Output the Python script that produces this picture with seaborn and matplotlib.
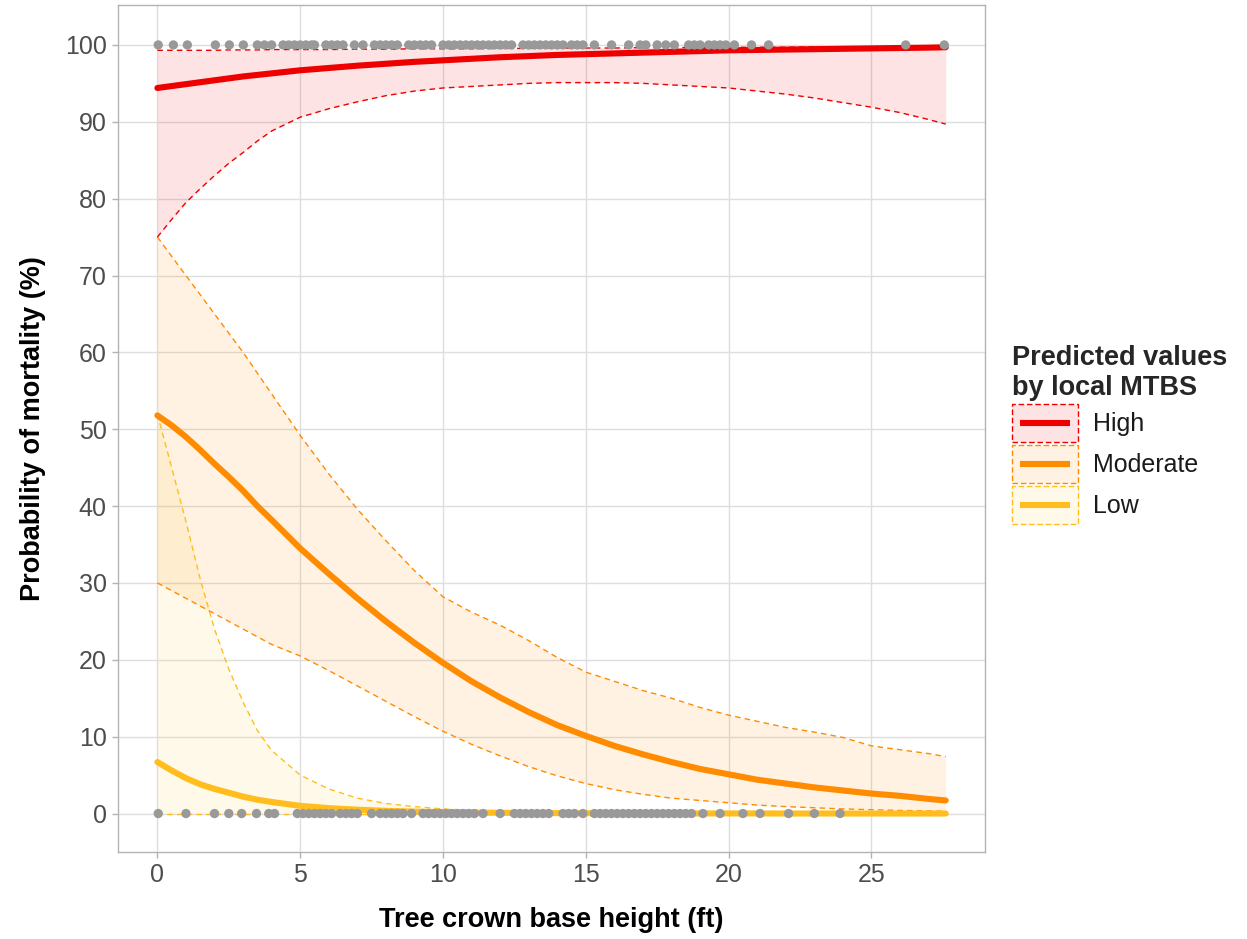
import matplotlib
matplotlib.use("Agg")
import matplotlib.pyplot as plt
import seaborn as sns
import pandas as pd
from matplotlib.patches import Rectangle
from matplotlib.lines import Line2D

# ---------------- data ----------------
x_grid = [0, 0.5, 1, 1.5, 2, 2.5, 3, 3.5, 4, 5, 6, 7, 8, 9, 10, 11, 12, 13, 14, 15,
          16, 17, 18, 19, 20, 21, 22, 23, 24, 25, 26, 27, 27.6]

high_fit = [94.4, 94.65, 94.9, 95.15, 95.4, 95.65, 95.9, 96.1, 96.3, 96.7, 97.0, 97.3, 97.55,
            97.8, 98.0, 98.2, 98.4, 98.55, 98.7, 98.8, 98.9, 99.0, 99.1, 99.2, 99.3, 99.35,
            99.4, 99.45, 99.5, 99.55, 99.6, 99.65, 99.7]
high_upper = [99.3, 99.3, 99.3, 99.3, 99.3, 99.35, 99.35, 99.35, 99.4, 99.4, 99.4, 99.45, 99.45,
              99.5, 99.5, 99.5, 99.55, 99.55, 99.6, 99.6, 99.6, 99.65, 99.65, 99.7, 99.7, 99.7,
              99.7, 99.75, 99.75, 99.75, 99.8, 99.8, 99.8]
high_lower = [75.0, 77.3, 79.5, 81.3, 83.0, 84.6, 86.0, 87.5, 88.8, 90.6, 91.7, 92.6, 93.4,
              94.0, 94.4, 94.6, 94.8, 95.0, 95.1, 95.1, 95.1, 95.0, 94.8, 94.6, 94.4, 94.0,
              93.6, 93.1, 92.5, 91.9, 91.2, 90.3, 89.7]

mod_fit = [51.8, 50.5, 49.0, 47.3, 45.5, 43.8, 42.0, 40.0, 38.2, 34.5, 31.2, 28.0, 25.0,
           22.2, 19.6, 17.2, 15.1, 13.2, 11.5, 10.1, 8.8, 7.7, 6.7, 5.8, 5.1, 4.4, 3.9, 3.4,
           3.0, 2.6, 2.3, 1.9, 1.7]
mod_upper = [75.0, 72.5, 70.0, 67.5, 65.0, 62.5, 60.0, 57.3, 54.6, 49.2, 44.2, 39.6, 35.5,
             31.6, 28.2, 26.2, 24.5, 22.5, 20.3, 18.4, 17.2, 16.0, 15.0, 13.8, 12.8, 12.0,
             11.2, 10.6, 9.9, 8.8, 8.3, 7.8, 7.4]
mod_lower = [30.0, 29.0, 28.0, 27.0, 26.0, 25.0, 24.0, 23.0, 22.0, 20.5, 18.6, 16.6, 14.6,
             12.6, 10.7, 9.0, 7.5, 6.1, 4.9, 3.9, 3.1, 2.5, 2.0, 1.7, 1.4, 1.1, 0.9, 0.75,
             0.6, 0.5, 0.4, 0.35, 0.3]

low_fit = [6.7, 5.6, 4.6, 3.8, 3.2, 2.7, 2.2, 1.8, 1.5, 1.0, 0.7, 0.5, 0.35, 0.25, 0.18,
           0.13, 0.1, 0.07, 0.05, 0.04, 0.03, 0.02, 0.02, 0.01, 0.01, 0.01, 0.0, 0.0, 0.0,
           0.0, 0.0, 0.0, 0.0]
low_upper = [52.0, 45.0, 38.0, 30.5, 24.0, 18.8, 14.5, 10.8, 8.2, 5.0, 3.2, 2.0, 1.3, 0.9,
             0.6, 0.4, 0.25, 0.15, 0.1, 0.07, 0.05, 0.03, 0.02, 0.01, 0.01, 0.0, 0.0, 0.0,
             0.0, 0.0, 0.0, 0.0, 0.0]
low_lower = [0.0] * 33

# observed trees (dead = 100, alive = 0)
dead_x = [0.03, 0.56, 1.05, 2.03, 2.52, 3.01, 3.5, 3.75, 4.0, 4.4, 4.6, 4.8, 5.0, 5.2, 5.4,
          5.5, 5.9, 6.1, 6.3, 6.5, 6.9, 7.2, 7.6, 7.8, 8.0, 8.2, 8.4, 8.8, 9.0, 9.2, 9.4,
          9.6, 10.0, 10.2, 10.4, 10.6, 10.8, 11.0, 11.2, 11.4, 11.6, 11.8, 12.0, 12.2, 12.4,
          12.8, 13.0, 13.2, 13.4, 13.6, 13.8, 14.0, 14.2, 14.5, 14.7, 14.9, 15.3, 15.9,
          16.5, 16.9, 17.1, 17.5, 17.8, 18.1, 18.6, 18.8, 19.0, 19.3, 19.5, 19.7, 19.9,
          20.2, 20.8, 21.4, 26.2, 27.55]
alive_x = [0.03, 1.0, 2.0, 2.5, 2.95, 3.47, 3.9, 4.1, 4.9, 5.1, 5.3, 5.5, 5.7, 5.9, 6.1,
           6.4, 6.6, 6.8, 7.0, 7.5, 7.8, 8.0, 8.2, 8.4, 8.6, 8.9, 9.3, 9.5, 9.7, 9.9, 10.1,
           10.3, 10.5, 10.7, 10.9, 11.1, 11.4, 12.0, 12.5, 12.7, 12.9, 13.1, 13.3, 13.5,
           13.7, 14.2, 14.4, 14.6, 14.9, 15.3, 15.5, 15.7, 15.9, 16.1, 16.3, 16.5, 16.7,
           16.9, 17.1, 17.3, 17.5, 17.7, 17.9, 18.1, 18.3, 18.5, 18.7, 19.1, 19.7, 20.5,
           21.1, 22.1, 23.0, 23.9]

categories = ["High", "Moderate", "Low"]
colors = {"High": "#EE0000", "Moderate": "#FF8C00", "Low": "#FFBE1E"}
fill_alpha = {"High": 0.11, "Moderate": 0.11, "Low": 0.09}

series = {
    "High": (high_fit, high_lower, high_upper),
    "Moderate": (mod_fit, mod_lower, mod_upper),
    "Low": (low_fit, low_lower, low_upper),
}

# ---------------- style ----------------
sns.set_theme(style="white")
plt.rcParams["font.family"] = ["Liberation Sans", "DejaVu Sans"]

fig = plt.figure(figsize=(12.47, 9.39), dpi=100)
ax = fig.add_axes([0.0946, 0.0927, 0.6954, 0.902])

grid_c = "#DEDEDE"
for s in ax.spines.values():
    s.set_color("#B3B3B3")
    s.set_linewidth(1.0)

# ribbons
for cat in ["Low", "Moderate", "High"]:
    fit, lo, hi = series[cat]
    ax.fill_between(x_grid, lo, hi, color=colors[cat], alpha=fill_alpha[cat], linewidth=0, zorder=1)

# bounds (dashed)
for cat in ["Low", "Moderate", "High"]:
    fit, lo, hi = series[cat]
    for b in (lo, hi):
        df = pd.DataFrame({"x": x_grid, "y": b})
        sns.lineplot(data=df, x="x", y="y", ax=ax, color=colors[cat], linewidth=1.0,
                     linestyle=(0, (4, 3)), zorder=2, legend=False)

# fitted lines
for cat in ["Low", "Moderate", "High"]:
    fit, lo, hi = series[cat]
    df = pd.DataFrame({"x": x_grid, "y": fit})
    sns.lineplot(data=df, x="x", y="y", ax=ax, color=colors[cat], linewidth=4.4,
                 zorder=3, legend=False)

# observed points
pts = pd.DataFrame({"x": dead_x + alive_x,
                    "y": [100] * len(dead_x) + [0] * len(alive_x)})
sns.scatterplot(data=pts, x="x", y="y", ax=ax, color="#999999", s=45, edgecolor="none",
                zorder=4, legend=False)

ax.set_xlim(-1.38, 28.98)
ax.set_ylim(-5, 105.2)
ax.set_xticks([0, 5, 10, 15, 20, 25])
ax.set_yticks(list(range(0, 101, 10)))
ax.grid(True, color=grid_c, linewidth=1.0, zorder=0)
ax.set_axisbelow(True)
ax.tick_params(axis="both", which="major", length=4, width=1.0, color="#B3B3B3",
               labelsize=18, labelcolor="#4D4D4D", pad=4, bottom=True, left=True)

ax.set_xlabel("Tree crown base height (ft)", fontsize=19.5, fontweight="bold", color="black", labelpad=14)
ax.set_ylabel("Probability of mortality (%)", fontsize=19.5, fontweight="bold", color="black", labelpad=14)


# legend with ggplot-like keys
class Key:
    def __init__(self, cat):
        self.cat = cat


class KeyHandler:
    def legend_artist(self, legend, orig_handle, fontsize, handlebox):
        cat = orig_handle.cat
        x0, y0 = handlebox.xdescent, handlebox.ydescent
        w, h = handlebox.width, handlebox.height
        tr = handlebox.get_transform()
        fc = matplotlib.colors.to_rgba(colors[cat], fill_alpha[cat])
        rect = Rectangle((-x0, -y0), w, h, facecolor=fc, edgecolor=colors[cat],
                         linestyle=(0, (4, 2)), linewidth=1.0, transform=tr)
        line = Line2D([-x0 + 0.12 * w, -x0 + 0.88 * w], [-y0 + h / 2, -y0 + h / 2],
                      color=colors[cat], linewidth=4.4, solid_capstyle="butt", transform=tr)
        handlebox.add_artist(rect)
        handlebox.add_artist(line)
        return rect


handles = [Key(c) for c in categories]
leg = fig.legend(handles, categories, handler_map={Key: KeyHandler()},
                 title="Predicted values\nby local MTBS", loc="upper left",
                 bbox_to_anchor=(0.8035, 0.643), frameon=False, fontsize=18,
                 title_fontproperties={"weight": "bold", "size": 19.5},
                 handlelength=2.64, handleheight=1.95, labelspacing=0.12, handletextpad=0.6,
                 alignment="left", borderaxespad=0)
for t in leg.get_texts():
    t.set_color("#1A1A1A")

fig.savefig("out.png", dpi=100)
